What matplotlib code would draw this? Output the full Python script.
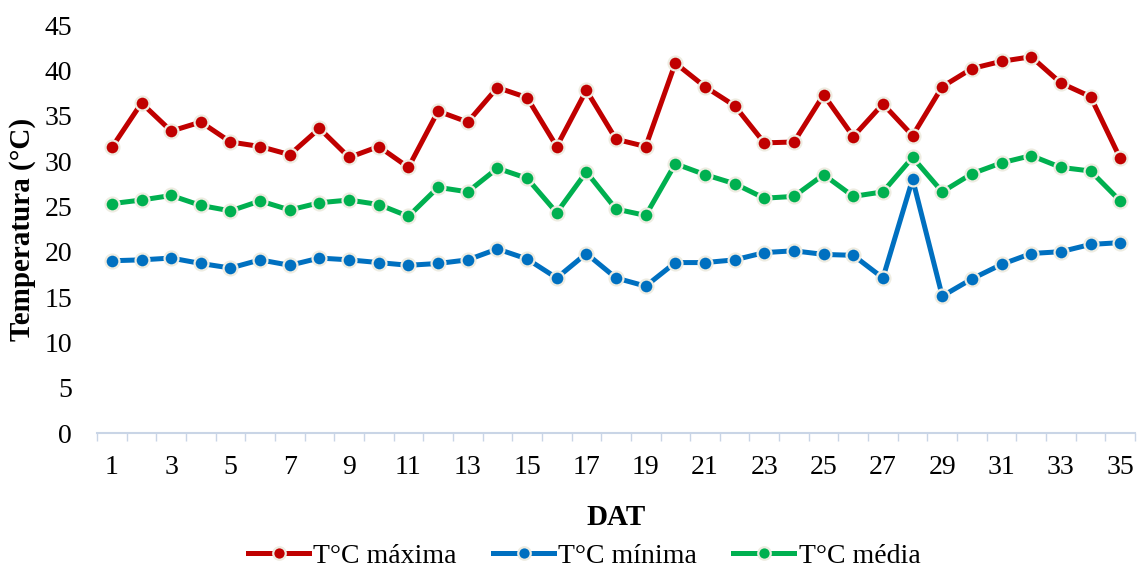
import matplotlib
matplotlib.use("Agg")
import matplotlib.pyplot as plt
from matplotlib.ticker import FixedLocator, MultipleLocator

dat = list(range(1, 36))
t_max = [31.5, 36.4, 33.3, 34.3, 32.1, 31.6, 30.7, 33.6, 30.4, 31.6,
         29.3, 35.5, 34.3, 38.1, 37.0, 31.6, 37.8, 32.4, 31.6, 40.8,
         38.2, 36.1, 32.0, 32.1, 37.3, 32.7, 36.3, 32.8, 38.2, 40.2,
         41.0, 41.5, 38.6, 37.1, 30.3]
t_min = [19.0, 19.1, 19.3, 18.7, 18.2, 19.1, 18.5, 19.3, 19.1, 18.8,
         18.5, 18.7, 19.1, 20.3, 19.2, 17.1, 19.8, 17.1, 16.2, 18.8,
         18.8, 19.1, 19.9, 20.1, 19.7, 19.6, 17.1, 28.0, 15.1, 17.0,
         18.6, 19.8, 20.0, 20.8, 21.0]
t_med = [25.3, 25.7, 26.2, 25.1, 24.5, 25.6, 24.6, 25.4, 25.7, 25.2,
         23.9, 27.1, 26.6, 29.2, 28.1, 24.3, 28.8, 24.7, 24.0, 29.7,
         28.5, 27.5, 25.9, 26.1, 28.5, 26.1, 26.6, 30.4, 26.6, 28.6,
         29.8, 30.6, 29.3, 28.9, 25.6]
labels = ["T°C máxima", "T°C mínima", "T°C média"]
colors = ["#C00000", "#0070C0", "#00B050"]

plt.rcParams['font.family'] = ['Liberation Serif', 'DejaVu Serif']

fig = plt.figure(figsize=(11.39, 5.74), dpi=100)
ax = fig.add_axes([0.0852, 0.2456, 0.9113, 0.7108])

for series, lab, col in zip([t_max, t_min, t_med], labels, colors):
    ax.plot(dat, series, color=col, lw=3.6, marker='o', markersize=10,
            markerfacecolor=col, markeredgecolor='#EEECE1', markeredgewidth=1.6,
            label=lab, solid_joinstyle='round', zorder=3)

ax.set_xlim(0.5, 35.5)
ax.set_ylim(0, 45)
ax.yaxis.set_major_locator(MultipleLocator(5))
ax.set_xticks(dat[::2])
ax.xaxis.set_minor_locator(FixedLocator([i + 0.5 for i in range(0, 36)]))
ax.tick_params(axis='x', which='major', length=0, pad=16, labelsize=20)
ax.tick_params(axis='x', which='minor', length=6, color='#C9D5E6', width=1)
ax.tick_params(axis='y', length=0, pad=18, labelsize=20)

for s in ['top', 'right', 'left']:
    ax.spines[s].set_visible(False)
ax.spines['bottom'].set_color('#C9D5E6')
ax.spines['bottom'].set_linewidth(1.5)

ax.set_ylabel("Temperatura (°C)", fontsize=21, fontweight='bold', labelpad=6)
ax.set_xlabel("DAT", fontsize=21, fontweight='bold', labelpad=17)

leg = fig.legend(loc='center', bbox_to_anchor=(0.513, 0.031), ncol=3, frameon=False,
                 fontsize=20, handlelength=2.2, columnspacing=1.3, handletextpad=0.15,
                 markerscale=0.9)

fig.savefig("out.png", dpi=100)
